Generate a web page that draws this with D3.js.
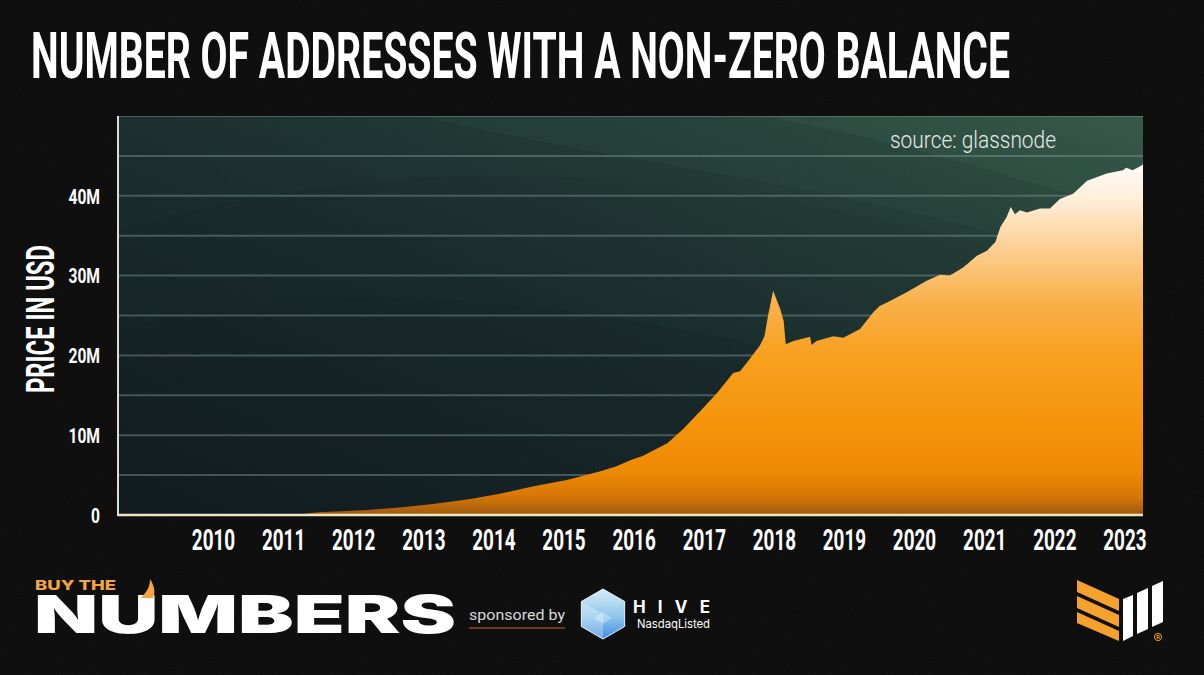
<!DOCTYPE html>
<html>
<head>
<meta charset="utf-8">
<script src="https://cdn.jsdelivr.net/npm/d3@7"></script>
<style>
  html, body { margin: 0; padding: 0; background: #0b0b0b; }
  svg { display: block; }
</style>
</head>
<body>
<script>
// data: addresses with a non-zero balance, in millions
const dates = [
  "2009-01-03", "2010-01-01", "2010-09-01", "2011-03-28", "2011-07-01", "2011-12-01",
  "2012-03-17", "2012-09-01", "2013-02-10", "2013-09-05", "2014-02-10", "2014-07-24",
  "2015-01-19", "2015-07-08", "2015-10-04", "2015-12-28", "2016-02-17", "2016-06-25",
  "2016-09-13", "2016-12-13", "2017-03-11", "2017-06-03", "2017-07-09", "2017-08-14",
  "2017-10-19", "2017-11-13", "2017-12-01", "2017-12-28", "2018-02-03", "2018-02-21",
  "2018-03-04", "2018-04-13", "2018-07-09", "2018-07-16", "2018-08-11", "2018-11-07",
  "2018-12-28", "2019-03-26", "2019-06-03", "2019-07-06", "2019-08-11", "2019-11-24",
  "2020-03-07", "2020-05-16", "2020-07-06", "2020-09-13", "2020-11-24", "2021-01-15",
  "2021-02-28", "2021-03-26", "2021-04-27", "2021-05-19", "2021-06-10", "2021-07-06",
  "2021-08-11", "2021-10-19", "2021-12-09", "2022-01-30", "2022-04-09", "2022-06-21",
  "2022-10-01", "2022-12-24", "2023-01-11", "2023-02-13", "2023-04-01", "2023-04-08"
];
const addrM = [
  0, 0.02, 0.05, 0.1, 0.35, 0.5,
  0.63, 0.95, 1.35, 2.0, 2.7, 3.56,
  4.4, 5.45, 6.1, 7.0, 7.4, 9.0,
  10.7, 13.0, 15.3, 17.8, 18.0, 19.1,
  21.2, 22.4, 24.9, 28.1, 25.8, 24.3,
  21.4, 21.8, 22.35, 21.3, 21.8, 22.4,
  22.2, 23.3, 25.4, 26.2, 26.6, 27.9,
  29.35, 30.1, 30.0, 31.0, 32.5, 33.1,
  34.2, 36.1, 37.3, 38.6, 37.7, 38.2,
  37.9, 38.4, 38.4, 39.6, 40.25, 41.9,
  42.8, 43.2, 43.5, 43.2, 43.8, 44.0
];
const yLabelTicks = [0, 10, 20, 30, 40];
const yGridTicks = [5, 10, 15, 20, 25, 30, 35, 40, 45, 50];
const yearTicks = [2010, 2011, 2012, 2013, 2014, 2015, 2016, 2017, 2018, 2019, 2020, 2021, 2022, 2023];

const W = 1204, H = 675;
const plot = {left: 118, right: 1143, top: 116, bottom: 515};
const COND = "Roboto, 'Liberation Sans', sans-serif";

const parse = d3.timeParse("%Y-%m-%d");
const series = dates.map((d, i) => ({date: parse(d), v: addrM[i]}));

const svg = d3.select("body").append("svg")
  .attr("width", W)
  .attr("height", H);

const defs = svg.append("defs");

// page noise
const noise = defs.append("filter").attr("id", "noise").attr("x", 0).attr("y", 0).attr("width", "100%").attr("height", "100%");
noise.append("feTurbulence").attr("type", "fractalNoise").attr("baseFrequency", 0.85).attr("numOctaves", 2).attr("seed", 3);
noise.append("feColorMatrix").attr("type", "matrix")
  .attr("values", "0 0 0 0 1  0 0 0 0 1  0 0 0 0 1  0 0 0 0.5 0");

const bgGrad = defs.append("linearGradient").attr("id", "plotBg")
  .attr("x1", 0).attr("y1", 1).attr("x2", 1).attr("y2", 0);
bgGrad.append("stop").attr("offset", 0).attr("stop-color", "#0f1a1e");
bgGrad.append("stop").attr("offset", 0.45).attr("stop-color", "#16282a");
bgGrad.append("stop").attr("offset", 0.8).attr("stop-color", "#213b34");
bgGrad.append("stop").attr("offset", 1).attr("stop-color", "#2f4e40");

const areaGrad = defs.append("linearGradient").attr("id", "areaFill")
  .attr("gradientUnits", "userSpaceOnUse")
  .attr("x1", 0).attr("y1", 160).attr("x2", 0).attr("y2", plot.bottom);
[[0, "#fffdf8"], [0.1, "#fff0de"], [0.25, "#fdcf92"], [0.4, "#fab14a"], [0.55, "#f8a020"],
 [0.75, "#f59409"], [0.88, "#ee8904"], [0.95, "#d67606"], [1, "#9c5a12"]].forEach(s => {
  areaGrad.append("stop").attr("offset", s[0]).attr("stop-color", s[1]);
});

const hexGrad = defs.append("linearGradient").attr("id", "hexFill")
  .attr("x1", 0).attr("y1", 0).attr("x2", 0).attr("y2", 1);
hexGrad.append("stop").attr("offset", 0).attr("stop-color", "#d6ecf7");
hexGrad.append("stop").attr("offset", 0.55).attr("stop-color", "#8fc6ea");
hexGrad.append("stop").attr("offset", 1).attr("stop-color", "#3c8ee4");

defs.append("clipPath").attr("id", "plotClip")
  .append("rect")
  .attr("x", plot.left).attr("y", plot.top)
  .attr("width", plot.right - plot.left).attr("height", plot.bottom - plot.top);

// background
svg.append("rect").attr("width", W).attr("height", H).attr("fill", "#0b0b0b");
svg.append("rect").attr("width", W).attr("height", H).attr("filter", "url(#noise)").attr("opacity", 0.07);

// scales
const x = d3.scaleTime()
  .domain([parse("2008-08-24"), parse("2023-04-08")])
  .range([plot.left, plot.right]);
const y = d3.scaleLinear()
  .domain([0, 50])
  .range([plot.bottom, plot.top]);

// plot background with soft bands
const pg = svg.append("g").attr("clip-path", "url(#plotClip)");
pg.append("rect")
  .attr("x", plot.left).attr("y", plot.top)
  .attr("width", plot.right - plot.left).attr("height", plot.bottom - plot.top)
  .attr("fill", "url(#plotBg)");
pg.append("path")
  .attr("d", "M118,230 C400,150 700,150 1143,290 L1143,116 L118,116 Z")
  .attr("fill", "#3b5e52").attr("opacity", 0.06);
pg.append("path")
  .attr("d", "M420,116 C650,170 900,190 1143,280 L1143,116 Z")
  .attr("fill", "#47695b").attr("opacity", 0.1);
pg.append("path")
  .attr("d", "M760,116 C900,140 1000,175 1143,215 L1143,116 Z")
  .attr("fill", "#56786a").attr("opacity", 0.12);
pg.append("path")
  .attr("d", "M118,330 C350,270 600,300 900,380 L900,515 L118,515 Z")
  .attr("fill", "#0a1316").attr("opacity", 0.08);
pg.append("rect")
  .attr("x", plot.left).attr("y", plot.top)
  .attr("width", plot.right - plot.left).attr("height", plot.bottom - plot.top)
  .attr("filter", "url(#noise)").attr("opacity", 0.05);

// gridlines
pg.selectAll(".grid")
  .data(yGridTicks)
  .enter()
  .append("line")
  .attr("class", "grid")
  .attr("x1", plot.left).attr("x2", plot.right)
  .attr("y1", d => y(d)).attr("y2", d => y(d))
  .attr("stroke", "#7f9b93")
  .attr("stroke-opacity", 0.45)
  .attr("stroke-width", 2);

// area
const area = d3.area()
  .x(d => x(d.date))
  .y0(y(0))
  .y1(d => y(d.v));

pg.append("path")
  .datum(series)
  .attr("d", area)
  .attr("fill", "url(#areaFill)");

// axis lines
svg.append("line")
  .attr("x1", plot.left).attr("x2", plot.left)
  .attr("y1", plot.top).attr("y2", plot.bottom + 1)
  .attr("stroke", "#d9dedb").attr("stroke-width", 2);
svg.append("line")
  .attr("x1", plot.left - 1).attr("x2", plot.right)
  .attr("y1", plot.bottom).attr("y2", plot.bottom)
  .attr("stroke", "#f2e4c2").attr("stroke-width", 2.5);

// y axis labels
const Y_SX = 0.78;
const yAxis = d3.axisLeft(y)
  .tickValues(yLabelTicks)
  .tickSize(0)
  .tickFormat(d => d === 0 ? "0" : d + "M");
const yG = svg.append("g")
  .attr("transform", "translate(" + plot.left + ",0)")
  .call(yAxis);
yG.select(".domain").remove();
yG.selectAll("text")
  .attr("fill", "#ffffff")
  .attr("font-family", COND)
  .attr("font-weight", 700)
  .attr("font-size", 20)
  .attr("x", -18 / Y_SX)
  .attr("dy", "0.36em")
  .attr("transform", "scale(" + Y_SX + ",1)");

// x axis labels
const X_SX = 0.64;
const xAxis = d3.axisBottom(x)
  .tickValues(yearTicks.map(yr => new Date(yr, 0, 1)))
  .tickSize(0)
  .tickPadding(14)
  .tickFormat(d3.timeFormat("%Y"));
const xG = svg.append("g")
  .attr("transform", "translate(0," + plot.bottom + ")")
  .call(xAxis);
xG.select(".domain").remove();
xG.selectAll("text")
  .attr("fill", "#ffffff")
  .attr("font-family", COND)
  .attr("font-weight", 700)
  .attr("font-size", 29.5)
  .attr("transform", "scale(" + X_SX + ",1)");

// axis title
svg.append("text")
  .attr("transform", "translate(54,319) rotate(-90)")
  .attr("text-anchor", "middle")
  .attr("fill", "#ffffff")
  .attr("font-family", COND)
  .attr("font-weight", 700)
  .attr("font-size", 39)
  .attr("textLength", 148)
  .attr("lengthAdjust", "spacingAndGlyphs")
  .text("PRICE IN USD");

// title
svg.append("text")
  .attr("x", 31)
  .attr("y", 78)
  .attr("fill", "#ffffff")
  .attr("font-family", COND)
  .attr("font-weight", 700)
  .attr("font-size", 65)
  .attr("textLength", 979)
  .attr("lengthAdjust", "spacingAndGlyphs")
  .text("NUMBER OF ADDRESSES WITH A NON-ZERO BALANCE");

// source
svg.append("text")
  .attr("x", 890)
  .attr("y", 148)
  .attr("fill", "#e4ebe7")
  .attr("font-family", COND)
  .attr("font-weight", 300)
  .attr("font-size", 24)
  .attr("textLength", 166)
  .attr("lengthAdjust", "spacingAndGlyphs")
  .text("source: glassnode");

// footer: Buy The Numbers
svg.append("text")
  .attr("x", 35).attr("y", 590)
  .attr("fill", "#f3a443")
  .attr("font-family", "Inter, 'Open Sans', sans-serif")
  .attr("font-weight", 800)
  .attr("font-size", 13.5)
  .attr("textLength", 81)
  .attr("lengthAdjust", "spacingAndGlyphs")
  .text("BUY THE");
svg.append("text")
  .attr("x", 34).attr("y", 633)
  .attr("fill", "#ffffff")
  .attr("font-family", "Inter, 'Open Sans', sans-serif")
  .attr("font-weight", 900)
  .attr("font-size", 52)
  .attr("textLength", 422)
  .attr("lengthAdjust", "spacingAndGlyphs")
  .text("NUMBERS");
svg.append("path")
  .attr("d", "M141,598 C146,592 150,588 150,579 C154,585 156,592 153,598 Z")
  .attr("fill", "#f3a443");

svg.append("text")
  .attr("x", 469).attr("y", 620)
  .attr("fill", "#d8d8d8")
  .attr("font-family", "Roboto, sans-serif")
  .attr("font-size", 15)
  .attr("textLength", 96)
  .attr("lengthAdjust", "spacingAndGlyphs")
  .text("sponsored by");
svg.append("line")
  .attr("x1", 469).attr("x2", 565)
  .attr("y1", 628).attr("y2", 628)
  .attr("stroke", "#8a4a2c").attr("stroke-width", 1.5);

// HIVE hexagon
const hx = 603, hy = 614, hr = 25;
const hexPts = d3.range(6).map(i => {
  const a = Math.PI / 3 * i - Math.PI / 2;
  return [hx + hr * Math.cos(a), hy + hr * Math.sin(a)];
});
svg.append("path")
  .attr("d", "M" + hexPts.join("L") + "Z")
  .attr("fill", "url(#hexFill)")
  .attr("stroke", "#e4f3fb").attr("stroke-width", 1).attr("stroke-linejoin", "round");
svg.append("path")
  .attr("d", "M" + [hexPts[5], [hx, hy], hexPts[3], hexPts[4]].join("L") + "Z")
  .attr("fill", "#ffffff").attr("opacity", 0.28);
svg.append("path")
  .attr("d", "M" + [[hx - 9, hy + 4], [hx, hy - 2], [hx + 9, hy + 4], [hx, hy + 10]].join("L") + "Z")
  .attr("fill", "#ffffff").attr("opacity", 0.3);
svg.append("text")
  .attr("x", 633).attr("y", 613)
  .attr("fill", "#ffffff")
  .attr("font-family", "Inter, sans-serif")
  .attr("font-weight", 700)
  .attr("font-size", 17)
  .attr("textLength", 77)
  .attr("lengthAdjust", "spacing")
  .text("HIVE");
svg.append("text")
  .attr("x", 637).attr("y", 628)
  .attr("fill", "#ffffff")
  .attr("font-family", "Inter, sans-serif")
  .attr("font-size", 12)
  .attr("textLength", 73)
  .attr("lengthAdjust", "spacingAndGlyphs")
  .text("NasdaqListed");

// right logo: orange stripes
const stripes = [
  [[1077, 580], [1119, 599], [1119, 611], [1077, 592]],
  [[1077, 596], [1119, 615], [1119, 627], [1077, 608]],
  [[1077, 612], [1119, 631], [1119, 641], [1077, 623]]
];
svg.selectAll(".stripe")
  .data(stripes)
  .enter()
  .append("path")
  .attr("class", "stripe")
  .attr("d", d => "M" + d.join("L") + "Z")
  .attr("fill", "#f5a12e");
const bars = [
  [[1123, 599], [1133, 595], [1133, 636], [1123, 641]],
  [[1137, 593], [1148, 588], [1148, 629], [1137, 634]],
  [[1152, 586], [1163, 581], [1163, 622], [1152, 627]]
];
svg.selectAll(".bar")
  .data(bars)
  .enter()
  .append("path")
  .attr("class", "bar")
  .attr("d", d => "M" + d.join("L") + "Z")
  .attr("fill", "#ffffff");
svg.append("circle")
  .attr("cx", 1158).attr("cy", 637).attr("r", 3.6)
  .attr("fill", "none").attr("stroke", "#f5a12e").attr("stroke-width", 1);
svg.append("text")
  .attr("x", 1158).attr("y", 639)
  .attr("text-anchor", "middle")
  .attr("fill", "#f5a12e")
  .attr("font-family", "Roboto, sans-serif")
  .attr("font-weight", 700)
  .attr("font-size", 5.5)
  .text("R");
</script>
</body>
</html>
